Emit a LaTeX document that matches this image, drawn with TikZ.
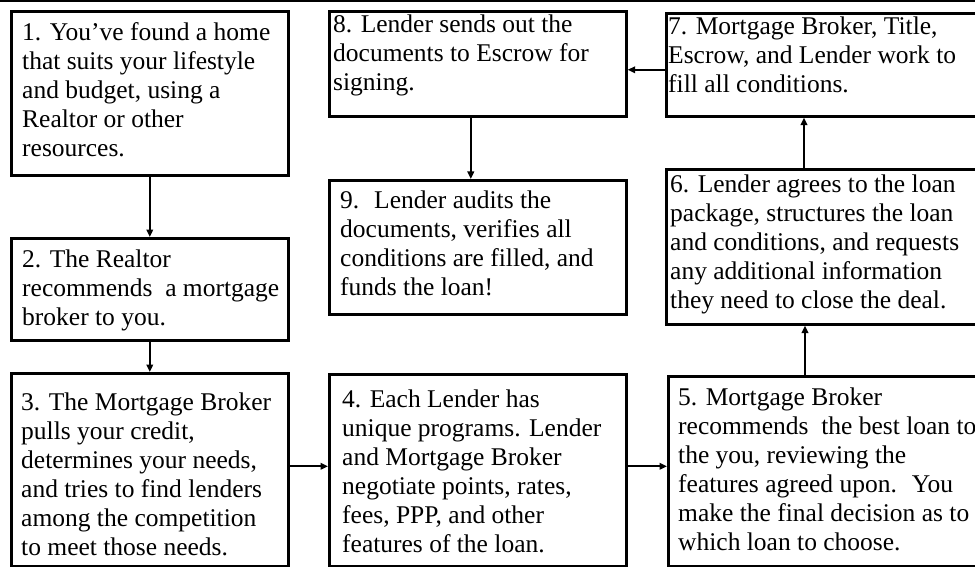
\documentclass[tikz,border=0pt]{standalone}
\usepackage{fontspec}
\setmainfont{Liberation Serif}
\usetikzlibrary{arrows.meta}
\tikzset{
  box/.style={draw=black, line width=2.6pt, fill=white, inner sep=0pt, anchor=north west},
  txt/.style={align=left, inner sep=0pt, anchor=base west, font=\fontsize{25.5}{29}\selectfont},
  arr/.style={line width=2pt, -{Triangle[length=7.5pt,width=6.5pt]}},
}
\begin{document}
\begin{tikzpicture}[x=1pt,y=-1pt]
\path[use as bounding box] (0,0) rectangle (975,567);
\clip (0,0) rectangle (975,567);
\fill[white] (0,0) rectangle (975,567);
\draw[line width=2.5pt] (0,1.2) -- (975,1.2);
% boxes
\node[box, minimum width=277pt, minimum height=164pt] (b1) at (10,10) {};
\node[box, minimum width=277pt, minimum height=102pt] (b2) at (10,237) {};
\node[box, minimum width=277pt, minimum height=193pt] (b3) at (10,372) {};
\node[box, minimum width=297pt, minimum height=105pt] (b8) at (328,10) {};
\node[box, minimum width=297pt, minimum height=134pt] (b9) at (328,179) {};
\node[box, minimum width=297pt, minimum height=192pt] (b4) at (328,373) {};
\node[box, minimum width=330pt, minimum height=103pt] (b7) at (665,12) {};
\node[box, minimum width=330pt, minimum height=155pt] (b6) at (665,168) {};
\node[box, minimum width=330pt, minimum height=190pt] (b5) at (667,375) {};
% texts (anchored at the baseline of the last line)
\node[txt] (t1) at (22,157) {1. You've found a home\\that suits your lifestyle\\and budget, using a\\Realtor or other\\resources.};
\node[txt] (t2) at (22,325) {2. The Realtor\\recommends \ a mortgage\\broker to you.};
\node[txt] (t3) at (21,555) {3. The Mortgage Broker\\pulls your credit,\\determines your needs,\\and tries to find lenders\\among the competition\\to meet those needs.};
\node[txt] (t4) at (342,552) {4. Each Lender has\\unique programs. Lender\\and Mortgage Broker\\negotiate points, rates,\\fees, PPP, and other\\features of the loan.};
\node[txt] (t5) at (678,550) {5. Mortgage Broker\\recommends \ the best loan to\\the you, reviewing the\\features agreed upon. \ You\\make the final decision as to\\which loan to choose.};
\node[txt] (t6) at (670,308) {6. Lender agrees to the loan\\package, structures the loan\\and conditions, and requests\\any additional information\\they need to close the deal.};
\node[txt] (t7) at (668,93) {7. Mortgage Broker, Title,\\Escrow, and Lender work to\\fill all conditions.};
\node[txt] (t8) at (333,91) {8. Lender sends out the\\documents to Escrow for\\signing.};
\node[txt] (t9) at (340,295) {9. \ Lender audits the\\documents, verifies all\\conditions are filled, and\\funds the loan!};
% connectors
\draw[arr] (b1) -- (b2);
\draw[arr] (b2) -- (b3);
\draw[arr] ([yshift=3.5pt]b3.east) -- ([yshift=3.5pt]b3.east -| b4.west);
\draw[arr] ([yshift=4pt]b4.east) -- ([yshift=4pt]b4.east -| b5.west);
\draw[arr] ([xshift=138pt]b5.north west) -- ([xshift=138pt]b5.north west |- b6.south);
\draw[arr] ([xshift=139pt]b6.north west) -- ([xshift=139pt]b6.north west |- b7.south);
\draw[arr] ([yshift=-5pt]b7.west) -- ([yshift=-5pt]b7.west -| b8.east);
\draw[arr] ([xshift=-7pt]b8.south) -- ([xshift=-7pt]b8.south |- b9.north);
\end{tikzpicture}
\end{document}
